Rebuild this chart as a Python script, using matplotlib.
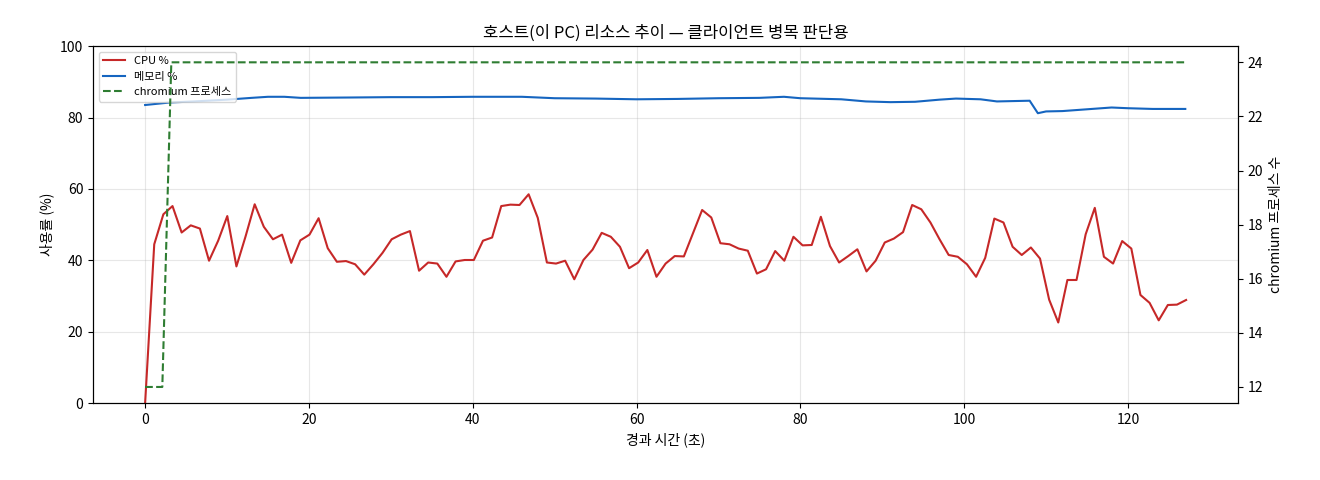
import numpy as np
import matplotlib
matplotlib.use("Agg")
import matplotlib.pyplot as plt

plt.rcParams['font.family'] = ['Noto Sans CJK KR', 'DejaVu Sans']

# CPU samples, evenly spaced over the run
cpu = [0, 44.5, 52.9, 55.2, 47.8, 49.8, 48.9, 39.9, 45.5, 52.4, 38.3, 46.7, 55.7, 49.4, 45.9,
       47.2, 39.3, 45.6, 47.2, 51.8, 43.4, 39.6, 39.8, 38.9, 36.0, 38.9, 42.1, 45.9, 47.2, 48.2,
       37.1, 39.4, 39.1, 35.4, 39.7, 40.1, 40.1, 45.5, 46.4, 55.2, 55.6, 55.5, 58.5, 51.9,
       39.4, 39.1, 39.9, 34.7, 40.1, 43.0, 47.7, 46.6, 43.8, 37.8, 39.4, 42.9, 35.4, 39.1, 41.2,
       41.1, 47.6, 54.1, 52.0, 44.8, 44.5, 43.3, 42.7, 36.3, 37.5, 42.6, 39.9, 46.6, 44.2, 44.3,
       52.2, 44.0, 39.4, 41.2, 43.1, 36.9, 39.9, 45.0, 46.1,
       47.9, 55.5, 54.3, 50.6, 45.9, 41.5, 41.0, 38.9, 35.4, 40.7, 51.7, 50.6, 43.8, 41.5, 43.6,
       40.5, 29.0, 22.6, 34.5, 34.5, 47.3, 54.7, 41.0, 39.1, 45.4, 43.3, 30.3, 28.1, 23.2, 27.5,
       27.6, 28.9]
cpu_time = np.linspace(0, 127.1, len(cpu))

mem_time = [0, 3, 6, 10, 13, 15, 17, 19, 25, 30, 35, 40, 46, 50, 55, 60, 65, 70, 75, 78, 80,
            85, 88, 91, 94, 97, 99, 102, 104, 106, 108, 109, 110, 112, 115, 118, 120, 123, 127]
mem = [83.5, 84.2, 84.5, 85.0, 85.5, 85.8, 85.8, 85.5, 85.6, 85.7, 85.7, 85.8, 85.8, 85.4,
       85.3, 85.1, 85.2, 85.4, 85.5, 85.8, 85.4, 85.1, 84.5, 84.3, 84.4, 85.0, 85.3, 85.1,
       84.5, 84.6, 84.7, 81.2, 81.7, 81.8, 82.3, 82.8, 82.6, 82.4, 82.4]

proc_time = [0, 2.1, 3.2, 127.1]
procs = [12, 12, 24, 24]

fig, ax = plt.subplots(figsize=(13.2, 4.8), dpi=100)
fig.subplots_adjust(left=0.0705, right=0.938, top=0.904, bottom=0.16)

l1, = ax.plot(cpu_time, cpu, color='#c62828', lw=1.5, label='CPU %')
l2, = ax.plot(mem_time, mem, color='#1565c0', lw=1.5, label='메모리 %')
ax.set_ylim(0, 100)
ax.set_xlabel('경과 시간 (초)')
ax.set_ylabel('사용률 (%)')
ax.grid(True, alpha=0.3)

ax2 = ax.twinx()
l3, = ax2.plot(proc_time, procs, color='#2e7d32', lw=1.5, ls='--', label='chromium 프로세스')
ax2.set_ylim(11.4, 24.6)
ax2.set_yticks(range(12, 25, 2))
ax2.set_ylabel('chromium 프로세스 수')

ax.legend(handles=[l1, l2, l3], loc='upper left', fontsize=8)
ax.set_title('호스트(이 PC) 리소스 추이 — 클라이언트 병목 판단용')

fig.savefig('out.png')
